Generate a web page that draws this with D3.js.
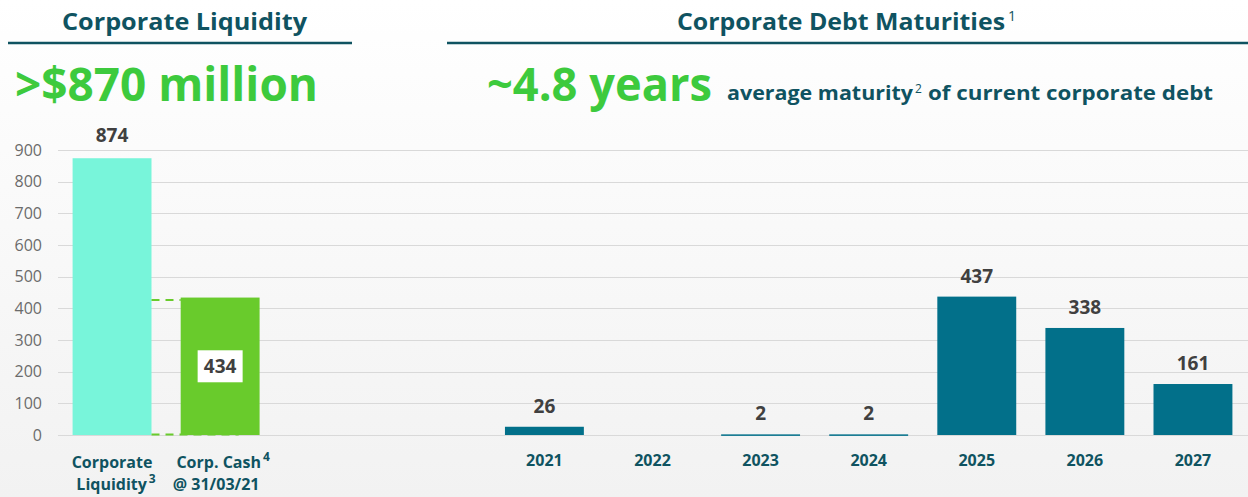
<!DOCTYPE html>
<html>
<head>
<meta charset="utf-8">
<script src="https://cdn.jsdelivr.net/npm/d3@7"></script>
<style>
  html, body { margin: 0; padding: 0; background: #fff; }
  svg { display: block; }
</style>
</head>
<body>
<svg id="chart" width="1248" height="497"></svg>
<script>
// ---- data ----
const leftCategories = ["Corporate Liquidity", "Corp. Cash"];
const leftValues = [874, 434];
const years = ["2021", "2022", "2023", "2024", "2025", "2026", "2027"];
const maturities = [26, null, 2, 2, 437, 338, 161];
const yTicks = [0, 100, 200, 300, 400, 500, 600, 700, 800, 900];

// ---- styles ----
const TEAL_TEXT = "#0f5361";
const TEAL_BAR = "#02708a";
const MINT = "#78f5da";
const GREEN_BAR = "#69cb2c";
const GREEN_TEXT = "#3dca3d";
const FONT = "'Open Sans', 'Noto Sans', sans-serif";

const svg = d3.select("#chart");
const W = 1248, H = 497;

// background gradient
const defs = svg.append("defs");
const grad = defs.append("linearGradient").attr("id", "bg").attr("x1", 0).attr("y1", 0).attr("x2", 0).attr("y2", 1);
grad.append("stop").attr("offset", "0%").attr("stop-color", "#ffffff");
grad.append("stop").attr("offset", "22%").attr("stop-color", "#fcfcfc");
grad.append("stop").attr("offset", "100%").attr("stop-color", "#f2f2f2");
svg.append("rect").attr("width", W).attr("height", H).attr("fill", "url(#bg)");

// ---- scales ----
const domain = [...leftCategories, "gap1", "gap2", ...years];
const x = d3.scaleBand().domain(domain).range([58, 1247]).paddingInner(0.27).paddingOuter(0.135);
const y = d3.scaleLinear().domain([0, 900]).range([435, 150]);

// ---- headers ----
svg.append("text").attr("x", 62).attr("y", 30)
  .attr("font-family", FONT).attr("font-weight", 700).attr("font-size", 24)
  .attr("fill", TEAL_TEXT).attr("textLength", 245).attr("lengthAdjust", "spacingAndGlyphs")
  .text("Corporate Liquidity");
svg.append("line").attr("x1", 8).attr("x2", 352).attr("y1", 43).attr("y2", 43)
  .attr("stroke", TEAL_TEXT).attr("stroke-width", 2.5);

svg.append("text").attr("x", 677).attr("y", 30)
  .attr("font-family", FONT).attr("font-size", 24).attr("fill", TEAL_TEXT).attr("font-weight", 700)
  .attr("textLength", 328).attr("lengthAdjust", "spacingAndGlyphs").text("Corporate Debt Maturities");
svg.append("text").attr("x", 1008).attr("y", 21)
  .attr("font-family", FONT).attr("font-size", 14).attr("fill", TEAL_TEXT).attr("font-weight", 400)
  .text("1");
svg.append("line").attr("x1", 447).attr("x2", 1248).attr("y1", 43).attr("y2", 43)
  .attr("stroke", TEAL_TEXT).attr("stroke-width", 2.5);

svg.append("text").attr("x", 15).attr("y", 101)
  .attr("font-family", FONT).attr("font-weight", 700).attr("font-size", 46)
  .attr("fill", GREEN_TEXT).attr("textLength", 303).attr("lengthAdjust", "spacingAndGlyphs")
  .text(">$870 million");

svg.append("text").attr("x", 487).attr("y", 101)
  .attr("font-family", FONT).attr("font-weight", 700).attr("font-size", 47)
  .attr("fill", GREEN_TEXT).attr("textLength", 225).attr("lengthAdjust", "spacingAndGlyphs")
  .text("~4.8 years");

const subStyle = s => s.attr("font-family", FONT).attr("font-weight", 700).attr("font-size", 20).attr("fill", TEAL_TEXT);
svg.append("text").attr("x", 727).attr("y", 100).call(subStyle)
  .attr("textLength", 186).attr("lengthAdjust", "spacingAndGlyphs").text("average maturity");
svg.append("text").attr("x", 915).attr("y", 93)
  .attr("font-family", FONT).attr("font-weight", 400).attr("font-size", 12).attr("fill", TEAL_TEXT).text("2");
svg.append("text").attr("x", 928).attr("y", 100).call(subStyle)
  .attr("textLength", 285).attr("lengthAdjust", "spacingAndGlyphs").text("of current corporate debt");

// ---- gridlines & y axis ----
const g = svg.append("g");
g.selectAll("line.grid").data(yTicks).join("line").attr("class", "grid")
  .attr("x1", 58).attr("x2", 1248)
  .attr("y1", d => Math.round(y(d)) + 0.5).attr("y2", d => Math.round(y(d)) + 0.5)
  .attr("stroke", "#d9d9d9").attr("stroke-width", 1);

const yAxis = d3.axisLeft(y).tickValues(yTicks).tickSize(0).tickPadding(0);
const ya = svg.append("g").attr("transform", "translate(42,0)").call(yAxis);
ya.select(".domain").remove();
ya.selectAll("text").attr("font-family", FONT).attr("font-size", 16).attr("fill", "#6b6b6b");

// ---- left bars ----
const leftColors = [MINT, GREEN_BAR];
svg.selectAll("rect.left").data(leftCategories).join("rect").attr("class", "left")
  .attr("x", d => x(d)).attr("width", x.bandwidth())
  .attr("y", (d, i) => y(leftValues[i])).attr("height", (d, i) => y(0) - y(leftValues[i]))
  .attr("fill", (d, i) => leftColors[i]);

// dashed connectors
const liqRight = x(leftCategories[0]) + x.bandwidth();
const cashLeft = x(leftCategories[1]);
svg.append("line").attr("x1", liqRight).attr("x2", cashLeft)
  .attr("y1", y(leftValues[1]) + 2.5).attr("y2", y(leftValues[1]) + 2.5)
  .attr("stroke", GREEN_BAR).attr("stroke-width", 2).attr("stroke-dasharray", "8,6");
svg.append("line").attr("x1", liqRight).attr("x2", cashLeft + 58)
  .attr("y1", y(0) - 0.5).attr("y2", y(0) - 0.5)
  .attr("stroke", GREEN_BAR).attr("stroke-width", 2).attr("stroke-dasharray", "8,6");

// label 874
svg.append("text").attr("x", x(leftCategories[0]) + x.bandwidth() / 2).attr("y", y(leftValues[0]) - 16)
  .attr("text-anchor", "middle").attr("font-family", FONT).attr("font-weight", 700)
  .attr("font-size", 19).attr("fill", "#404040").text(leftValues[0]);

// label 434 inside white box
const cx434 = x(leftCategories[1]) + x.bandwidth() / 2;
const cy434 = (y(leftValues[1]) + y(0)) / 2;
svg.append("rect").attr("x", cx434 - 22.5).attr("y", cy434 - 16).attr("width", 45).attr("height", 32).attr("fill", "#ffffff");
svg.append("text").attr("x", cx434).attr("y", cy434 + 7).attr("text-anchor", "middle")
  .attr("font-family", FONT).attr("font-weight", 700).attr("font-size", 19).attr("fill", "#404040")
  .text(leftValues[1]);

// ---- right bars ----
const matData = years.map((yr, i) => ({ yr, v: maturities[i] })).filter(d => d.v !== null);
svg.selectAll("rect.mat").data(matData).join("rect").attr("class", "mat")
  .attr("x", d => x(d.yr)).attr("width", x.bandwidth())
  .attr("y", d => y(d.v)).attr("height", d => Math.max(1.5, y(0) - y(d.v)))
  .attr("fill", TEAL_BAR);
svg.selectAll("text.matlbl").data(matData).join("text").attr("class", "matlbl")
  .attr("x", d => x(d.yr) + x.bandwidth() / 2)
  .attr("y", d => y(d.v) - 14)
  .attr("text-anchor", "middle").attr("font-family", FONT).attr("font-weight", 700)
  .attr("font-size", 19).attr("fill", "#404040").text(d => d.v);

// ---- x axis labels ----
const xAxis = d3.axisBottom(x).tickValues(years).tickSize(0).tickPadding(0);
const xa = svg.append("g").attr("transform", "translate(0,455)").call(xAxis);
xa.select(".domain").remove();
xa.selectAll("text").attr("font-family", FONT).attr("font-weight", 700).attr("font-size", 16)
  .attr("fill", TEAL_TEXT).attr("dy", "0.71em");

const lx0 = x(leftCategories[0]) + x.bandwidth() / 2;
const lx1 = x(leftCategories[1]) + x.bandwidth() / 2;
const lblStyle = s => s.attr("font-family", FONT).attr("font-weight", 700).attr("font-size", 16)
  .attr("fill", TEAL_TEXT).attr("text-anchor", "middle");
svg.append("text").attr("x", lx0).attr("y", 468).call(lblStyle).text("Corporate");
const l2 = svg.append("text").attr("x", lx0 + 4).attr("y", 490).call(lblStyle);
l2.append("tspan").text("Liquidity");
l2.append("tspan").attr("font-size", 12).attr("dy", -7).attr("dx", 2).text("3");
const l3 = svg.append("text").attr("x", lx1 + 3).attr("y", 468).call(lblStyle);
l3.append("tspan").text("Corp. Cash");
l3.append("tspan").attr("font-size", 12).attr("dy", -7).attr("dx", 2).text("4");
svg.append("text").attr("x", lx1 - 4).attr("y", 490).call(lblStyle).text("@ 31/03/21");
</script>
</body>
</html>
